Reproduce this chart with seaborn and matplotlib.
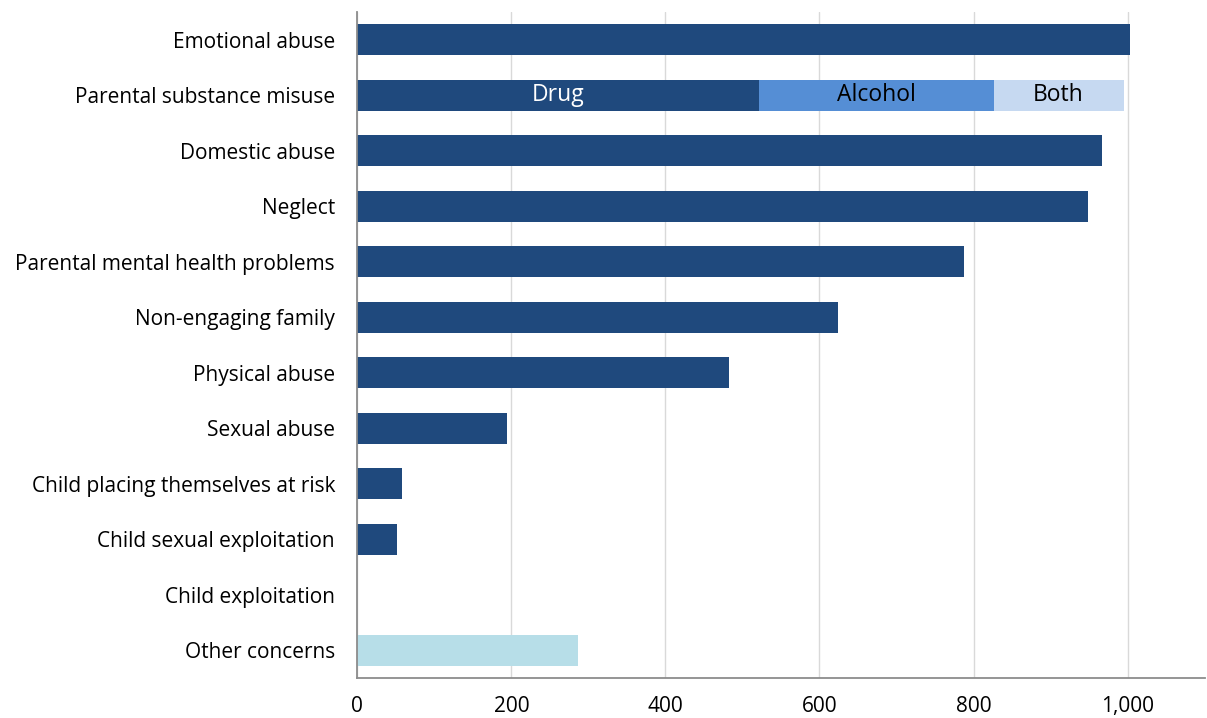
import numpy as np
import pandas as pd
import matplotlib
matplotlib.use("Agg")
import matplotlib.pyplot as plt
import matplotlib.ticker as mticker
import seaborn as sns

# data
categories = [
    "Emotional abuse",
    "Parental substance misuse",
    "Domestic abuse",
    "Neglect",
    "Parental mental health problems",
    "Non-engaging family",
    "Physical abuse",
    "Sexual abuse",
    "Child placing themselves at risk",
    "Child sexual exploitation",
    "Child exploitation",
    "Other concerns",
]
values = [1003, 0, 967, 949, 788, 624, 483, 195, 58, 52, 0, 287]

substance_parts = ["Drug", "Alcohol", "Both"]
substance_values = [522, 304, 169]

dark_blue = "#1F497D"
part_colors = {"Drug": dark_blue, "Alcohol": "#558ED5", "Both": "#C6D9F1"}
part_text = {"Drug": "white", "Alcohol": "black", "Both": "black"}
other_color = "#B7DEE8"

sns.set_style("white")
plt.rcParams["font.family"] = ["Open Sans", "DejaVu Sans"]
plt.rcParams["text.color"] = "black"
plt.rcParams["xtick.color"] = "black"
plt.rcParams["ytick.color"] = "black"

df = pd.DataFrame({"category": categories, "value": values})
colors = {c: dark_blue for c in categories}
colors["Other concerns"] = other_color

fig, ax = plt.subplots(figsize=(12.07, 7.18), dpi=100)
fig.subplots_adjust(left=0.296, right=0.998, top=0.983, bottom=0.056)

bar_w = 0.56
sns.barplot(data=df, y="category", x="value", hue="category", palette=colors,
            order=categories, orient="h", width=bar_w, legend=False, ax=ax,
            saturation=1, edgecolor="none")

# stacked parental substance misuse bar, drawn from the longest total down
cum = np.cumsum(substance_values)
for part, total in reversed(list(zip(substance_parts, cum))):
    sub = pd.DataFrame({"category": ["Parental substance misuse"], "value": [total]})
    sns.barplot(data=sub, y="category", x="value", order=categories, orient="h",
                width=bar_w, color=part_colors[part], saturation=1,
                edgecolor="none", ax=ax)

starts = np.concatenate([[0], cum[:-1]])
row = categories.index("Parental substance misuse")
for part, s, v in zip(substance_parts, starts, substance_values):
    ax.text(s + v / 2, row, part, ha="center", va="center",
            color=part_text[part], fontsize=16.5)

ax.set_xlim(0, 1100)
ax.set_ylim(len(categories) - 0.5, -0.5)
ax.xaxis.set_major_locator(mticker.FixedLocator([0, 200, 400, 600, 800, 1000]))
ax.xaxis.set_major_formatter(mticker.FuncFormatter(lambda v, p: f"{int(v):,}"))
ax.grid(axis="x", color="#D9D9D9", linewidth=1)
ax.set_axisbelow(True)

ax.set_xlabel("")
ax.set_ylabel("")
ax.set_yticks(range(len(categories)))
ax.set_yticklabels(categories)
ax.set_yticks(np.arange(-0.5, len(categories), 1), minor=True)
ax.tick_params(axis="y", which="major", length=0, pad=16, labelsize=15)
ax.tick_params(axis="y", which="minor", length=6, color="#8C8C8C", width=1.3)
ax.tick_params(axis="x", which="major", length=6, color="#8C8C8C", width=1.3,
               labelsize=15, pad=7)

for side in ["top", "right"]:
    ax.spines[side].set_visible(False)
for side in ["left", "bottom"]:
    ax.spines[side].set_color("#8C8C8C")
    ax.spines[side].set_linewidth(1.3)

fig.savefig("out.png", dpi=100)
